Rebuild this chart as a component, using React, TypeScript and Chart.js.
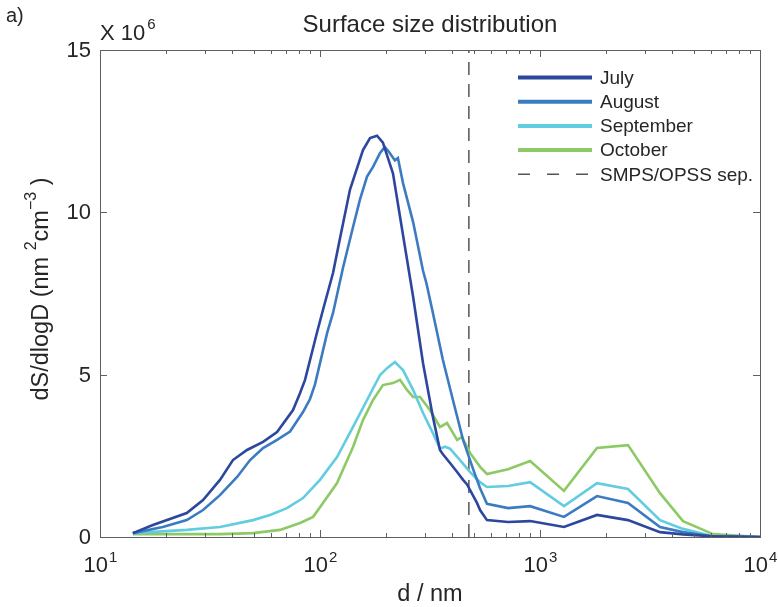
import React, { useEffect, useRef } from 'react';
import { Chart, registerables } from 'chart.js';

Chart.register(...registerables);

// ---- Data (diameter in nm, dS/dlogD in 10^6 nm^2 cm^-3) ----
const julyD = [14.1, 17.4, 24.8, 29.4, 35.1, 40.2, 46.6, 55.1, 63.8, 75.4, 81.1, 85.5, 96.9, 103.2, 114.6, 123.3, 136.9, 156.8, 168.8, 181.7, 193.2, 214.6, 238.4, 265, 294, 326, 351, 362, 390, 420, 447, 466, 517, 534, 574, 716, 902, 1285, 1816, 2512, 3511, 4467, 6113, 10000];
const julyS = [0.12, 0.37, 0.74, 1.14, 1.76, 2.37, 2.68, 2.93, 3.23, 3.91, 4.43, 4.84, 6.3, 7.0, 8.13, 9.2, 10.7, 11.92, 12.29, 12.36, 12.15, 11.2, 9.3, 7.4, 5.35, 3.7, 2.68, 2.55, 2.28, 2.0, 1.76, 1.62, 1.05, 0.83, 0.52, 0.46, 0.49, 0.31, 0.68, 0.52, 0.15, 0.08, 0.02, 0];

const augustD = [14.1, 19.3, 24.8, 29.4, 35.1, 42.0, 48.1, 55.1, 63.8, 73.1, 83.7, 90.1, 94.9, 107.7, 114.6, 127.3, 141.3, 152, 163.6, 174.2, 187.5, 197, 206, 219, 226, 238.4, 265, 294, 305, 326, 362, 402, 447, 496, 534, 574, 716, 902, 1285, 1816, 2512, 3511, 4467, 5900, 10000];
const augustS = [0.12, 0.31, 0.52, 0.83, 1.29, 1.85, 2.37, 2.74, 2.99, 3.25, 3.85, 4.25, 4.7, 6.28, 6.9, 8.3, 9.55, 10.4, 11.1, 11.4, 11.83, 12.01, 11.86, 11.6, 11.67, 10.9, 9.7, 8.2, 7.8, 6.9, 5.45, 4.22, 2.99, 2.1, 1.5, 1.02, 0.89, 0.95, 0.62, 1.26, 1.05, 0.31, 0.15, 0.03, 0];

const septemberD = [14.1, 24.8, 35.1, 49.6, 59.3, 70.8, 83.7, 100, 119.5, 141.3, 163.6, 187.5, 201.7, 219.1, 238.4, 265, 294, 326, 351, 370, 390, 433, 481, 534, 574, 716, 902, 1285, 1816, 2512, 3511, 4467, 6113, 10000];
const septemberS = [0.12, 0.22, 0.31, 0.52, 0.68, 0.89, 1.2, 1.76, 2.46, 3.39, 4.22, 4.99, 5.2, 5.39, 5.14, 4.53, 3.82, 3.2, 2.72, 2.78, 2.72, 2.37, 2.0, 1.69, 1.54, 1.57, 1.69, 0.95, 1.66, 1.48, 0.52, 0.25, 0.02, 0];

const octoberD = [14.1, 35.1, 49.6, 65.8, 81.1, 93, 100, 119.5, 141.3, 156.8, 174.2, 193.2, 214.6, 231, 248.6, 265, 285, 316, 351, 378, 420, 442, 481, 534, 574, 716, 902, 1285, 1816, 2512, 3511, 4467, 6113, 10000];
const octoberS = [0.09, 0.09, 0.12, 0.22, 0.43, 0.62, 0.92, 1.66, 2.77, 3.6, 4.22, 4.68, 4.74, 4.84, 4.53, 4.31, 4.31, 3.91, 3.39, 3.51, 2.99, 3.08, 2.59, 2.16, 1.94, 2.09, 2.34, 1.42, 2.74, 2.83, 1.35, 0.49, 0.09, 0];

const sepD = [475, 475];
const sepS = [0, 15];

const seriesLabels = ['July', 'August', 'September', 'October', 'SMPS/OPSS sep.'];
const xDecades = [1, 2, 3, 4];
const yTicks = [0, 5, 10, 15];

const FONT = '"Liberation Sans", Arial, Helvetica, sans-serif';
const TEXT = '#262626';
const AXIS = '#5f5f5f';
const COLORS = ['#2c479d', '#3b7bc2', '#62cce0', '#8dc965', '#555555'];

const pts = (d: number[], s: number[]) => d.map((v, i) => ({ x: v, y: s[i] }));

const drawPlugin = {
  id: 'matlabAxes',
  afterDraw(chart: any) {
    const { ctx, chartArea: a } = chart;
    const xs = chart.scales.x;
    const ys = chart.scales.y;
    ctx.save();

    // box
    ctx.strokeStyle = AXIS;
    ctx.lineWidth = 1;
    ctx.strokeRect(a.left + 0.5, a.top + 0.5, a.right - a.left, a.bottom - a.top);

    // x ticks
    ctx.beginPath();
    xDecades.forEach((k) => {
      const px = Math.round(xs.getPixelForValue(Math.pow(10, k))) + 0.5;
      ctx.moveTo(px, a.bottom); ctx.lineTo(px, a.bottom - 7);
      ctx.moveTo(px, a.top); ctx.lineTo(px, a.top + 7);
      if (k < 4) {
        for (let m = 2; m <= 9; m++) {
          const p = Math.round(xs.getPixelForValue(m * Math.pow(10, k))) + 0.5;
          ctx.moveTo(p, a.bottom); ctx.lineTo(p, a.bottom - 4);
          ctx.moveTo(p, a.top); ctx.lineTo(p, a.top + 4);
        }
      }
    });
    // y ticks
    yTicks.forEach((t) => {
      const py = Math.round(ys.getPixelForValue(t)) + 0.5;
      ctx.moveTo(a.left, py); ctx.lineTo(a.left + 7, py);
      ctx.moveTo(a.right, py); ctx.lineTo(a.right - 7, py);
    });
    ctx.stroke();

    ctx.fillStyle = TEXT;
    // x tick labels
    xDecades.forEach((k) => {
      const px = xs.getPixelForValue(Math.pow(10, k));
      ctx.font = `22px ${FONT}`;
      const w1 = ctx.measureText('10').width;
      ctx.font = `15px ${FONT}`;
      const w2 = ctx.measureText(String(k)).width;
      const start = px - (w1 + w2) / 2;
      ctx.textAlign = 'left';
      ctx.textBaseline = 'alphabetic';
      ctx.font = `22px ${FONT}`;
      ctx.fillText('10', start, 572);
      ctx.font = `15px ${FONT}`;
      ctx.fillText(String(k), start + w1 + 1, 562);
    });

    // y tick labels
    ctx.font = `22px ${FONT}`;
    ctx.textAlign = 'right';
    ctx.textBaseline = 'middle';
    yTicks.forEach((t) => {
      ctx.fillText(String(t), 91, ys.getPixelForValue(t) + 1);
    });

    // exponent label
    ctx.textAlign = 'left';
    ctx.textBaseline = 'alphabetic';
    ctx.font = `22px ${FONT}`;
    ctx.fillText('X 10', 100, 40);
    const wx = ctx.measureText('X 10').width;
    ctx.font = `15px ${FONT}`;
    ctx.fillText('6', 100 + wx + 2, 29);

    // title
    ctx.font = `24px ${FONT}`;
    ctx.textAlign = 'center';
    ctx.fillText('Surface size distribution', (a.left + a.right) / 2, 32);

    // panel label
    ctx.textAlign = 'left';
    ctx.font = `20px ${FONT}`;
    ctx.fillText('a)', 6, 22);

    // x axis label
    ctx.textAlign = 'center';
    ctx.font = `23.5px ${FONT}`;
    ctx.fillText('d / nm', (a.left + a.right) / 2, 601);

    // y axis label (rotated, with superscripts)
    const segs = [
      { t: 'dS/dlogD (nm ', f: 23.5, dy: 0 },
      { t: '2', f: 16, dy: -12 },
      { t: 'cm', f: 23.5, dy: 0 },
      { t: '\u22123', f: 16, dy: -12 },
      { t: ' )', f: 23.5, dy: 0 },
    ];
    let total = 0;
    const widths = segs.map((s) => {
      ctx.font = `${s.f}px ${FONT}`;
      const w = ctx.measureText(s.t).width;
      total += w;
      return w;
    });
    ctx.save();
    ctx.translate(48, 289);
    ctx.rotate(-Math.PI / 2);
    ctx.textAlign = 'left';
    let cx = -total / 2;
    segs.forEach((s, i) => {
      ctx.font = `${s.f}px ${FONT}`;
      ctx.fillText(s.t, cx, s.dy);
      cx += widths[i];
    });
    ctx.restore();

    // legend
    const ds = chart.data.datasets;
    ctx.font = `19px ${FONT}`;
    ctx.textAlign = 'left';
    ctx.textBaseline = 'middle';
    ds.forEach((d: any, i: number) => {
      const yy = 77.5 + i * 24.2;
      ctx.save();
      ctx.strokeStyle = d.borderColor;
      if (d.borderDash && d.borderDash.length) {
        ctx.lineWidth = 1.5;
        ctx.setLineDash([12, 17]);
      } else {
        ctx.lineWidth = 4;
      }
      ctx.beginPath();
      ctx.moveTo(518, yy);
      ctx.lineTo(592, yy);
      ctx.stroke();
      ctx.restore();
      ctx.fillStyle = TEXT;
      ctx.fillText(d.label, 600, yy + 1);
    });

    ctx.restore();
  },
};

export default function App() {
  const ref = useRef<HTMLCanvasElement>(null);
  useEffect(() => {
    document.body.style.margin = '0';
    const canvas = ref.current!;
    const lineDs = (label: string, d: number[], s: number[], color: string) => ({
      label,
      data: pts(d, s),
      borderColor: color,
      backgroundColor: color,
      borderWidth: 2.6,
      pointRadius: 0,
      tension: 0,
      fill: false,
    });
    const chart = new Chart(canvas, {
      type: 'line',
      data: {
        datasets: [
          lineDs(seriesLabels[0], julyD, julyS, COLORS[0]),
          lineDs(seriesLabels[1], augustD, augustS, COLORS[1]),
          lineDs(seriesLabels[2], septemberD, septemberS, COLORS[2]),
          lineDs(seriesLabels[3], octoberD, octoberS, COLORS[3]),
          {
            label: seriesLabels[4],
            data: pts(sepD, sepS),
            borderColor: COLORS[4],
            borderWidth: 1.5,
            borderDash: [13, 9],
            pointRadius: 0,
            fill: false,
          },
        ] as any,
      },
      options: {
        responsive: false,
        animation: false,
        parsing: true,
        layout: { padding: { left: 100, right: 18, top: 50, bottom: 70 } },
        scales: {
          x: { type: 'logarithmic', min: 10, max: 10000, display: false },
          y: { type: 'linear', min: 0, max: 15, display: false },
        },
        plugins: {
          legend: { display: false },
          tooltip: { enabled: false },
          title: { display: false },
        },
      },
      plugins: [drawPlugin],
    } as any);
    return () => chart.destroy();
  }, []);
  return (
    <div style={{ position: 'absolute', left: 0, top: 0, width: 778, height: 607, background: '#fff' }}>
      <canvas ref={ref} width={778} height={607} style={{ display: 'block', width: 778, height: 607 }} />
    </div>
  );
}
